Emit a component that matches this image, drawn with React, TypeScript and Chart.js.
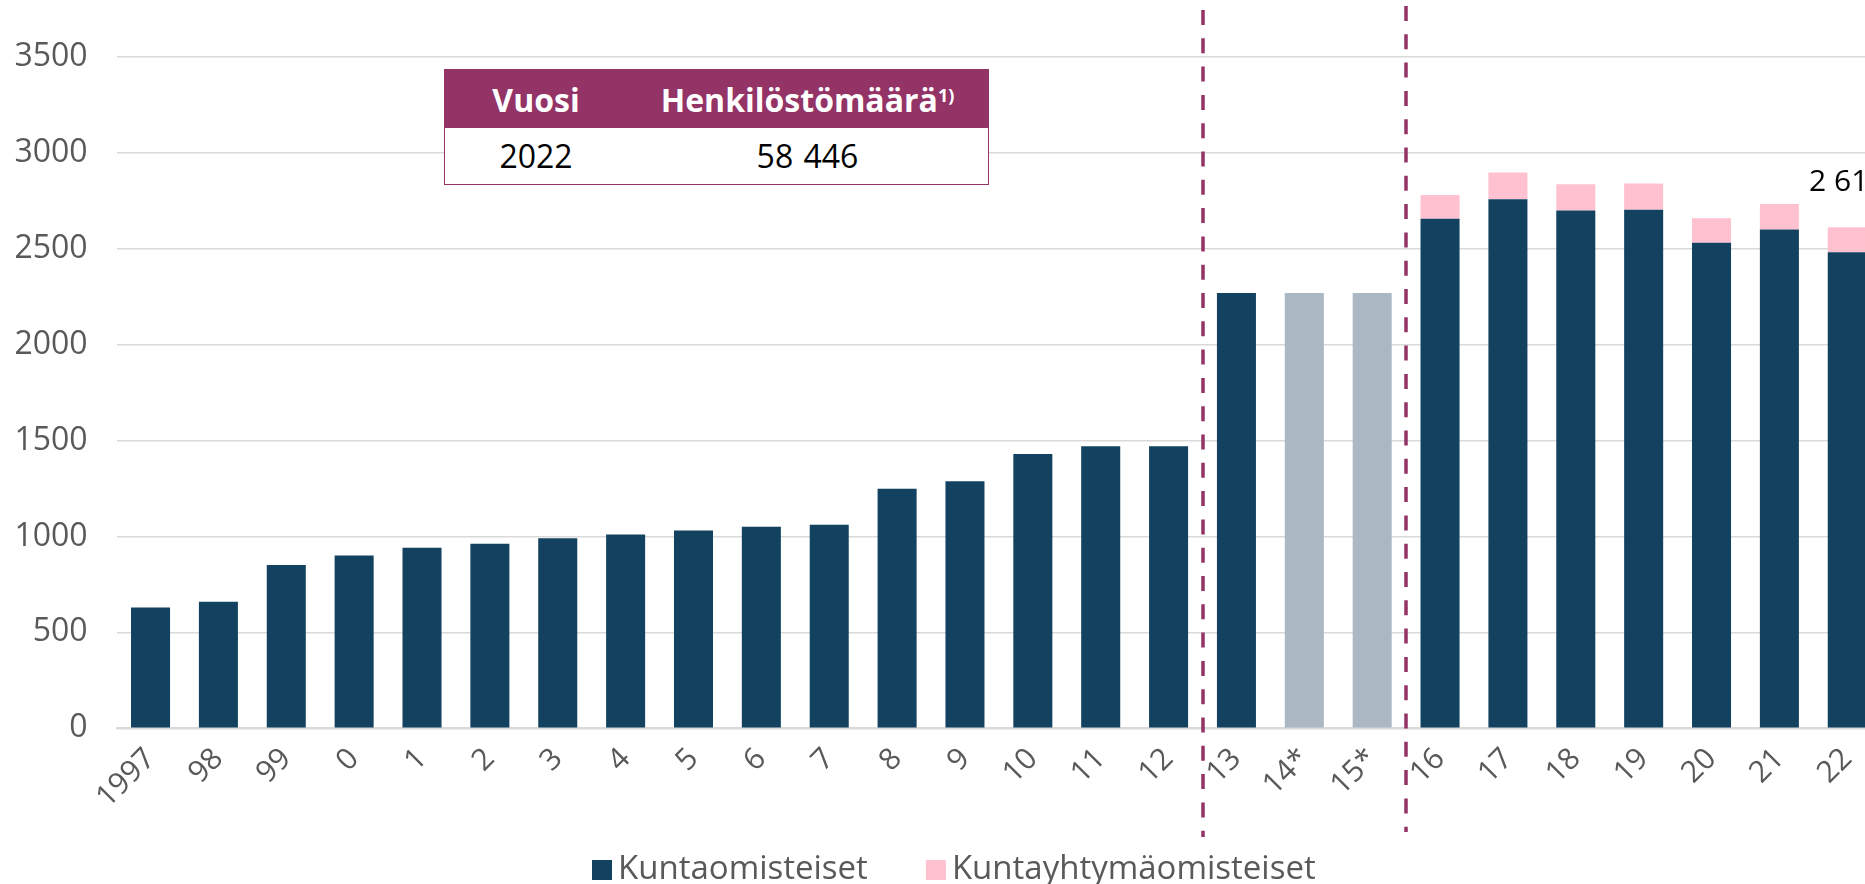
import React, { useEffect, useRef } from 'react';
import { Chart, registerables } from 'chart.js';

Chart.register(...registerables);

// ---------- data ----------
const categories = ['1997', '98', '99', '0', '1', '2', '3', '4', '5', '6', '7', '8', '9', '10', '11', '12', '13', '14*', '15*', '16', '17', '18', '19', '20', '21', '22'];
const kuntaomisteiset = [630, 660, 851, 901, 941, 962, 991, 1010, 1031, 1050, 1061, 1248, 1288, 1430, 1470, 1470, 2268, 2268, 2268, 2656, 2757, 2698, 2703, 2531, 2599, 2481];
const kuntayhtymaomisteiset = [null, null, null, null, null, null, null, null, null, null, null, null, null, null, null, null, null, null, null, 123, 139, 137, 136, 127, 134, 130];
const estimatedCategories = ['14*', '15*'];
const seriesNames = ['Kuntaomisteiset', 'Kuntayhtymäomisteiset'];
const yTicks = [0, 500, 1000, 1500, 2000, 2500, 3000, 3500];
const separatorsAfter = [15.5, 18.5];
const labelledCategory = '22';
const tableHeaders = ['Vuosi', 'Henkilöstömäärä'];
const tableFootnote = '1)';
const tableRow = ['2022', '58 446'];

// ---------- styles ----------
const FONT = '"Open Sans", Roboto, sans-serif';
const DARK = '#12425f';
const GREY = '#abb7c2';
const PINK = '#ffc1d0';
const PURPLE = '#933366';
const TEXT = '#595959';

const fmt = (v: number) => String(Math.round(v)).replace(/\B(?=(\d{3})+(?!\d))/g, ' ');

const separatorPlugin = {
  id: 'separators',
  afterDatasetsDraw(chart: any) {
    const { ctx, scales } = chart;
    const x = scales.x;
    const extents = [
      { top: 10, bottom: 837 },
      { top: 6, bottom: 832 },
    ];
    ctx.save();
    ctx.strokeStyle = PURPLE;
    ctx.lineWidth = 3.5;
    ctx.setLineDash([15, 13.3]);
    separatorsAfter.forEach((v, i) => {
      const px = Math.round(x.getPixelForValue(v));
      const e = extents[i] || extents[0];
      ctx.beginPath();
      ctx.moveTo(px, e.top);
      ctx.lineTo(px, e.bottom);
      ctx.stroke();
    });
    ctx.restore();
  },
};

const extrasPlugin = {
  id: 'extras',
  afterDraw(chart: any) {
    const { ctx, scales } = chart;
    // value label above last bar
    const idx = categories.indexOf(labelledCategory);
    const total = (kuntaomisteiset[idx] || 0) + (kuntayhtymaomisteiset[idx] || 0);
    const px = scales.x.getPixelForValue(idx);
    const py = scales.y.getPixelForValue(total);
    ctx.save();
    ctx.font = `30px ${FONT}`;
    ctx.fillStyle = '#000';
    ctx.textAlign = 'center';
    ctx.textBaseline = 'middle';
    ctx.fillText(fmt(total), px, py - 45);

    // legend
    ctx.font = `33px ${FONT}`;
    const colors = [DARK, PINK];
    const box = 20, gapText = 6, gapItem = 58;
    let cx = 592;
    const cy = 870;
    ctx.textAlign = 'left';
    ctx.textBaseline = 'middle';
    seriesNames.forEach((n, i) => {
      ctx.fillStyle = colors[i];
      ctx.fillRect(cx, cy - box / 2, box, box);
      cx += box + gapText;
      ctx.fillStyle = TEXT;
      ctx.fillText(n, cx, cy);
      cx += ctx.measureText(n).width + gapItem;
    });
    ctx.restore();
  },
};

export default function App() {
  const ref = useRef<HTMLCanvasElement>(null);

  useEffect(() => {
    const canvas = ref.current;
    if (!canvas) return;
    const chart = new Chart(canvas, {
      type: 'bar',
      data: {
        labels: categories,
        datasets: [
          {
            label: seriesNames[0],
            data: kuntaomisteiset,
            backgroundColor: categories.map((c) => (estimatedCategories.includes(c) ? GREY : DARK)),
            barPercentage: 0.575,
            categoryPercentage: 1,
            borderWidth: 0,
          },
          {
            label: seriesNames[1],
            data: kuntayhtymaomisteiset as any,
            backgroundColor: PINK,
            barPercentage: 0.575,
            categoryPercentage: 1,
            borderWidth: 0,
          },
        ],
      },
      options: {
        responsive: false,
        animation: false,
        devicePixelRatio: 1,
        layout: { padding: { left: 0, right: 18.8, top: 56.7, bottom: 0 } },
        plugins: {
          legend: { display: false },
          tooltip: { enabled: false },
        },
        scales: {
          x: {
            stacked: true,
            grid: { display: false, drawTicks: false },
            border: { display: true, color: '#d9d9d9', width: 2 },
            ticks: {
              autoSkip: false,
              minRotation: 45,
              maxRotation: 45,
              padding: 13,
              color: TEXT,
              font: { family: FONT, size: 30 },
            },
            afterFit: (s: any) => {
              s.height = 884 - 728.3;
            },
          },
          y: {
            stacked: true,
            min: 0,
            max: 3500,
            afterBuildTicks: (s: any) => {
              s.ticks = yTicks.map((v) => ({ value: v }));
            },
            grid: { color: '#d9d9d9', lineWidth: 1.6, drawTicks: false },
            border: { display: false },
            ticks: {
              padding: 29,
              color: TEXT,
              font: { family: FONT, size: 32 },
              callback: (v: any) => String(v),
            },
            afterFit: (s: any) => {
              s.width = 116.6;
            },
          },
        },
      },
      plugins: [separatorPlugin, extrasPlugin],
    });
    return () => chart.destroy();
  }, []);

  const cell: React.CSSProperties = {
    display: 'flex',
    alignItems: 'center',
    justifyContent: 'center',
    fontFamily: FONT,
    fontSize: '32px',
  };

  return (
    <div style={{ position: 'fixed', left: 0, top: 0, width: '1865px', height: '884px', overflow: 'hidden', background: '#fff' }}>
      <canvas ref={ref} width={1900} height={884} style={{ position: 'absolute', left: 0, top: 0, width: '1900px', height: '884px' }} />
      <div
        style={{
          position: 'absolute',
          left: '444px',
          top: '69px',
          width: '545px',
          height: '116px',
          boxSizing: 'border-box',
          border: `1.5px solid ${PURPLE}`,
          background: '#fff',
        }}
      >
        <div style={{ display: 'flex', height: '58px', background: PURPLE, color: '#fff', fontWeight: 700 }}>
          <div style={{ ...cell, width: '182px' }}>{tableHeaders[0]}</div>
          <div style={{ ...cell, flex: 1 }}>
            {tableHeaders[1]}
            <sup style={{ fontSize: '18px', position: 'relative', top: '-4px', verticalAlign: 'top' }}>{tableFootnote}</sup>
          </div>
        </div>
        <div style={{ display: 'flex', height: '55px', color: '#000' }}>
          <div style={{ ...cell, width: '182px' }}>{tableRow[0]}</div>
          <div style={{ ...cell, flex: 1, wordSpacing: '2px' }}>{tableRow[1]}</div>
        </div>
      </div>
    </div>
  );
}
